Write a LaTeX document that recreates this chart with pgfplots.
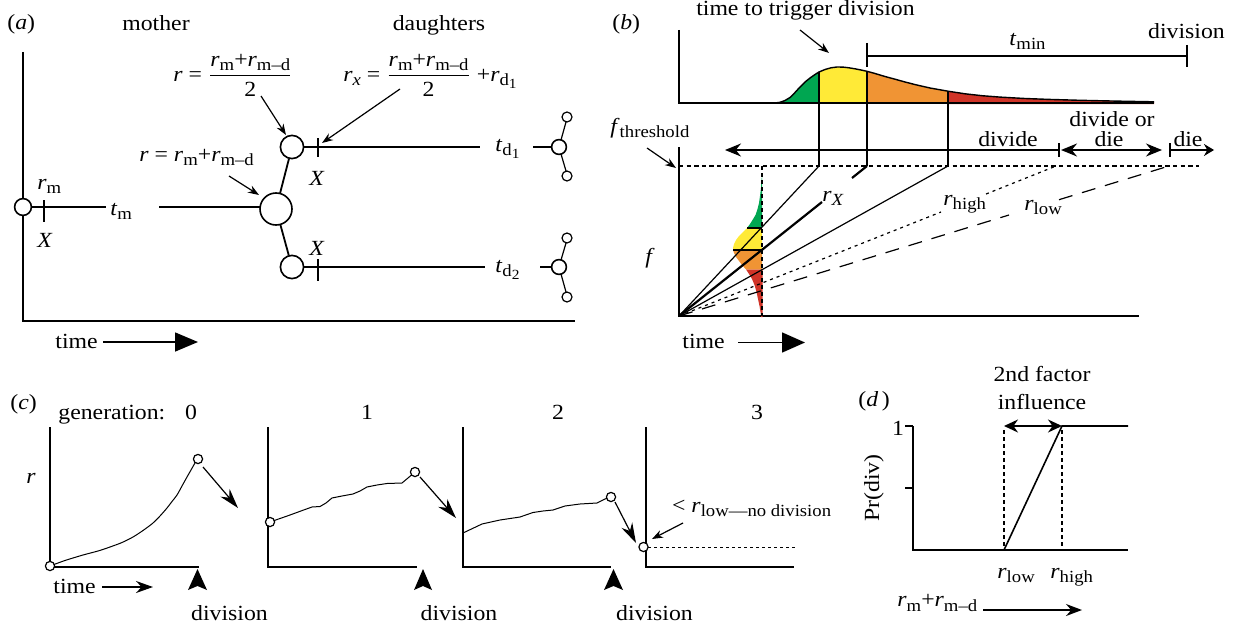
\documentclass[border=0pt]{standalone}
\usepackage{pgfplots}
\pgfplotsset{compat=1.18}
\usepackage{fontspec}
\setmainfont{Liberation Serif}[FakeStretch=1.1]
\usetikzlibrary{arrows.meta}
\definecolor{dgreen}{RGB}{0,166,81}
\definecolor{dyellow}{RGB}{255,234,55}
\definecolor{dorange}{RGB}{240,148,52}
\definecolor{dred}{RGB}{208,52,40}
\newcommand{\mainsz}{\fontsize{10.8}{13}\selectfont}
\newcommand{\sub}[1]{\raisebox{-2.4pt}{\fontsize{8.5}{9}\selectfont #1}}
\newcommand{\subsub}[1]{\raisebox{-1.5pt}{\fontsize{7}{8}\selectfont #1}}
\newcommand{\ri}{\textit{r}}
\pgfplotsset{
  ln/.style={draw=black, line width=0.6pt},
  ax/.style={draw=black, line width=1pt},
  axc/.style={draw=black, line width=0.75pt},
  circ/.style={only marks, mark=*, mark options={fill=white, draw=black, line width=0.8pt, solid}},
  circthin/.style={only marks, mark=*, mark options={fill=white, draw=black, line width=0.6pt, solid}},
  ann/.style={draw=black, line width=0.6pt, -{Stealth[length=5.5pt,width=4pt]}},
}
\begin{document}
\begin{tikzpicture}[every node/.style={font=\mainsz, inner sep=0pt}]
\path[use as bounding box] (0,0) rectangle (618pt,-313pt);
\begin{axis}[at={(0,0)}, anchor=north west, scale only axis, width=618pt, height=313pt,
  xmin=0, xmax=1236, ymin=-626, ymax=0, hide axis, clip=false]

% ================= PANEL (a) =================
\addplot[ax] coordinates {(23,-52) (23,-321) (575,-321)};
\addplot[ln] coordinates {(23,-207) (106,-207)};
\addplot[ln] coordinates {(159,-207) (262,-207)};
\addplot[ln] coordinates {(44,-200) (44,-222)};
\addplot[draw=black, line width=0.9pt] coordinates {(280,-193.5) (289,-158.6)};
\addplot[draw=black, line width=0.9pt] coordinates {(280.3,-224.4) (288.8,-255.4)};
\addplot[ln] coordinates {(304,-147) (480,-147)};
\addplot[ln] coordinates {(318,-138) (318,-157)};
\addplot[ln] coordinates {(304,-267) (485,-267)};
\addplot[ln] coordinates {(318,-259) (318,-281)};
\addplot[ln] coordinates {(533,-147) (552,-147)};
\addplot[ln] coordinates {(561,-140) (566,-122)};
\addplot[ln] coordinates {(561,-154) (566,-171)};
\addplot[ln] coordinates {(540,-267) (552,-267)};
\addplot[ln] coordinates {(561,-260) (566,-243)};
\addplot[ln] coordinates {(561,-274) (566,-292)};
\addplot[circ, mark size=4.2pt] coordinates {(23,-207)};
\addplot[circ, mark size=8pt] coordinates {(276,-209)};
\addplot[circ, mark size=5.8pt] coordinates {(292,-147) (292,-267)};
\addplot[circ, mark size=3.7pt] coordinates {(559,-147) (559,-267)};
\addplot[circthin, mark size=2.5pt] coordinates {(567,-117) (567,-176) (567,-238) (567,-297)};
\addplot[ann] coordinates {(261,-96) (286,-135)};
\addplot[ann] coordinates {(400,-89) (322,-143)};
\addplot[ann] coordinates {(229,-176) (259,-195)};
\addplot[draw=black, line width=0.8pt, -{Triangle[length=11.5pt,width=9.5pt]}] coordinates {(103,-342) (198,-342)};

\node[anchor=base west] at (7,-29.5) {(\textit{a})};
\node[anchor=base] at (156,-31) {mother};
\node[anchor=base] at (439,-30) {daughters};
\node[anchor=base west] at (173,-81) {$\mbox{\ri\ = }\displaystyle\frac{\mbox{\ri\sub{m}+\ri\sub{m–d}}}{\mbox{2}}$};
\node[anchor=base west] at (343,-81) {$\mbox{\ri\sub{\textit{x}} = }\displaystyle\frac{\mbox{\ri\sub{m}+\ri\sub{m–d}}}{\mbox{2}}\mbox{ +\ri\sub{d\subsub{1}}}$};
\node[anchor=base west] at (139,-161) {\ri\ = \ri\sub{m}+\ri\sub{m–d}};
\node[anchor=base west] at (37,-189) {\ri\sub{m}};
\node[anchor=base] at (45,-247) {\textit{X}};
\node[anchor=base west] at (110,-215) {\textit{t}\sub{m}};
\node[anchor=base] at (317,-185) {\textit{X}};
\node[anchor=base] at (317,-255) {\textit{X}};
\node[anchor=base west] at (495,-151) {\textit{t}\sub{d\subsub{1}}};
\node[anchor=base west] at (495,-272) {\textit{t}\sub{d\subsub{2}}};
\node[anchor=base west] at (55,-348) {time};

% ================= PANEL (b) =================
\addplot[fill=dgreen, draw=none] coordinates {(775,-103) (780,-102.3) (785,-100.5) (790,-97.5) (795,-92.5) (800,-87) (805,-82) (810,-78) (815,-74.5) (819,-72) (819,-103)} --cycle;
\addplot[fill=dyellow, draw=none] coordinates {(819,-103) (819,-72) (825,-69.5) (831,-67.8) (837,-67) (843,-67.1) (849,-67.8) (855,-68.8) (861,-70) (867,-71.3) (867,-103)} --cycle;
\addplot[fill=dorange, draw=none] coordinates {(867,-103) (867,-71.3) (875,-73.5) (885,-76.5) (895,-79.2) (905,-82) (916,-84.8) (930,-88) (948,-91.2) (948,-103)} --cycle;
\addplot[fill=dred, draw=none] coordinates {(948,-103) (948,-91.2) (965,-93.8) (983,-95.8) (1000,-97.1) (1025,-98.5) (1049,-99.4) (1080,-100.3) (1116,-101.1) (1154,-101.8) (1154,-104) (948,-104)} --cycle;
\addplot[draw=black, line width=0.7pt] coordinates {(770,-103) (775,-103) (780,-102.3) (785,-100.5) (790,-97.5) (795,-92.5) (800,-87) (805,-82) (810,-78) (815,-74.5) (819,-72) (825,-69.5) (831,-67.8) (837,-67) (843,-67.1) (849,-67.8) (855,-68.8) (861,-70) (867,-71.3) (875,-73.5) (885,-76.5) (895,-79.2) (905,-82) (916,-84.8) (930,-88) (948,-91.2) (965,-93.8) (983,-95.8) (1000,-97.1) (1025,-98.5) (1049,-99.4) (1080,-100.3) (1116,-101.1) (1154,-101.8)};
\addplot[ax] coordinates {(679,-30) (679,-103) (1154,-103)};
\addplot[ln] coordinates {(819,-72) (819,-166)};
\addplot[ln] coordinates {(867,-71.3) (867,-166)};
\addplot[ln] coordinates {(948,-91.2) (948,-166)};
\addplot[draw=black, line width=0.8pt] coordinates {(867,-56) (1187,-56)};
\addplot[draw=black, line width=0.8pt] coordinates {(867,-43) (867,-67)};
\addplot[draw=black, line width=0.8pt] coordinates {(1187,-45) (1187,-67)};

\addplot[ax] coordinates {(679,-147) (679,-316) (1139,-316)};
\addplot[draw=black, line width=0.7pt, dash pattern=on 2.2pt off 1.6pt] coordinates {(679,-166) (1199,-166)};
% sideways distribution
\addplot[fill=dgreen, draw=none] coordinates {(762,-176) (761.5,-180) (761,-188) (760,-196) (759,-203) (757.5,-209) (755.5,-215) (752.5,-220) (750,-224) (747,-228) (762,-228)} --cycle;
\addplot[fill=dyellow, draw=none] coordinates {(747,-228) (743,-232) (739,-236) (736,-240) (734,-244) (733,-248) (733,-250) (762,-250) (762,-228)} --cycle;
\addplot[fill=dorange, draw=none] coordinates {(733,-250) (734,-253) (736,-257) (739,-261) (742,-265) (746,-269.5) (762,-269.5) (762,-250)} --cycle;
\addplot[fill=dred, draw=none] coordinates {(746,-269.5) (749,-274) (752,-279) (754.5,-285) (756.5,-292) (758,-299) (759.5,-306) (760.5,-312) (761.2,-317) (762.5,-317) (762.5,-269.5)} --cycle;
\addplot[draw=black, line width=0.9pt] coordinates {(747,-228) (762,-228)};
\addplot[draw=black, line width=0.9pt] coordinates {(733,-250) (762,-250)};
\addplot[draw=black, line width=0.6pt, dash pattern=on 2pt off 1.5pt] coordinates {(762,-166) (762,-316)};
% rays
\addplot[ln] coordinates {(679,-316) (819,-166)};
\addplot[draw=black, line width=1.1pt] coordinates {(679,-316) (822,-202)};
\addplot[draw=black, line width=1.1pt] coordinates {(852,-178) (867,-166)};
\addplot[ln] coordinates {(679,-316) (948,-166)};
\addplot[draw=black, line width=0.6pt, dash pattern=on 1.5pt off 2pt] coordinates {(679,-316) (941,-212)};
\addplot[draw=black, line width=0.6pt, dash pattern=on 1.5pt off 2pt] coordinates {(986,-194) (1056,-166)};
\addplot[draw=black, line width=0.6pt, dash pattern=on 7pt off 5pt] coordinates {(679,-316) (1009,-215)};
\addplot[draw=black, line width=0.6pt, dash pattern=on 7pt off 5pt] coordinates {(1059,-199.7) (1169,-166)};
% arrows
\addplot[draw=black, line width=0.8pt, {Stealth[length=8pt,width=6.5pt]}-] coordinates {(725,-150) (1059,-150)};
\addplot[draw=black, line width=0.8pt] coordinates {(1059,-143) (1059,-157)};
\addplot[draw=black, line width=0.8pt, {Stealth[length=8pt,width=6.5pt]}-{Stealth[length=8pt,width=6.5pt]}] coordinates {(1061,-150) (1162,-150)};
\addplot[draw=black, line width=0.8pt] coordinates {(1170,-143) (1170,-157)};
\addplot[draw=black, line width=0.8pt, -{Stealth[length=5pt,width=6pt]}] coordinates {(1170,-150) (1214,-150)};
\addplot[ann] coordinates {(647,-148) (676,-168)};
\addplot[ann] coordinates {(800,-30) (829,-53)};
\addplot[draw=black, line width=0.8pt, -{Triangle[length=11.5pt,width=10pt]}] coordinates {(738,-342.5) (805,-342.5)};

\node[anchor=base west] at (612,-29.5) {(\textit{b})};
\node[anchor=base] at (805.5,-16) {time to trigger division};
\node[anchor=base west] at (1009,-45) {\textit{t}\sub{min}};
\node[anchor=base] at (1186.5,-38.5) {division};
\node[anchor=base west] at (610,-133) {\textit{f}\sub{threshold}};
\node[anchor=base west] at (645,-263) {\textit{f}};
\node[anchor=base] at (1008,-146) {divide};
\node[anchor=base] at (1112,-126.7) {divide or};
\node[anchor=base] at (1109,-146.7) {die};
\node[anchor=base] at (1188,-146.5) {die};
\node[anchor=base west] at (822,-201) {\ri\sub{\textit{X}}};
\node[anchor=base west] at (943,-205) {\ri\sub{high}};
\node[anchor=base west] at (1024,-210) {\ri\sub{low}};
\node[anchor=base west] at (682,-348) {time};

% ================= PANEL (c) =================
\addplot[axc] coordinates {(50,-427) (50,-567) (199,-567)};
\addplot[axc] coordinates {(268,-427) (268,-567) (417,-567)};
\addplot[axc] coordinates {(463,-427) (463,-567) (611,-567)};
\addplot[axc] coordinates {(646,-427) (646,-567) (794,-567)};
\addplot[draw=black, line width=0.5pt, smooth] coordinates {(50,-566) (65,-560.5) (83,-555) (98,-551) (110,-547) (122,-542.5) (133,-537) (143,-530.5) (153,-523) (160,-516) (167,-508) (172,-501.5) (177,-495) (182,-486) (187,-477) (191,-470) (195,-463) (198,-459)};
\addplot[draw=black, line width=0.5pt] coordinates {(270,-522) (290,-515) (305,-509.5) (312,-507) (320,-506.5) (326,-503) (332,-498) (342,-496) (353,-494) (360,-491) (367,-487) (377,-485) (387,-483.5) (402,-483) (408,-478) (415,-472)};
\addplot[draw=black, line width=0.5pt] coordinates {(463,-533) (482,-524) (500,-520) (520,-517) (533,-512.5) (543,-511) (553,-510) (565,-506) (580,-504) (597,-503) (605,-499) (611,-497)};
\addplot[draw=black, line width=0.5pt, dash pattern=on 1.5pt off 1.5pt] coordinates {(648,-547) (795,-547)};
\addplot[draw=black, line width=0.6pt, -{Stealth[length=10pt,width=6pt]}] coordinates {(203,-467) (238,-508)};
\addplot[draw=black, line width=0.6pt, -{Stealth[length=10pt,width=6pt]}] coordinates {(420,-477) (456,-518)};
\addplot[draw=black, line width=0.6pt, -{Stealth[length=10pt,width=6pt]}] coordinates {(615,-502) (636,-543)};
\addplot[ann] coordinates {(683,-523) (652,-539)};
\addplot[draw=black, line width=0.7pt, -{Stealth[length=8.5pt,width=6pt]}] coordinates {(102,-587) (153,-587)};
\addplot[fill=black, draw=none] coordinates {(188,-590) (197.5,-569) (207,-590) (197.5,-586)} --cycle;
\addplot[fill=black, draw=none] coordinates {(414,-590) (423,-569) (432,-590) (423,-586)} --cycle;
\addplot[fill=black, draw=none] coordinates {(604,-590) (613.5,-569) (623,-590) (613.5,-586)} --cycle;
\addplot[circthin, mark size=2.3pt] coordinates {(50,-566) (198,-459) (270,-522) (415,-472) (611,-497) (643.5,-547)};

\node[anchor=base west] at (10,-409.5) {(\textit{c})};
\node[anchor=base west] at (58,-419) {generation:};
\node[anchor=base] at (191,-419) {0};
\node[anchor=base] at (367,-419) {1};
\node[anchor=base] at (558,-419) {2};
\node[anchor=base] at (757,-419) {3};
\node[anchor=base west] at (26,-483) {\ri};
\node[anchor=base west] at (53,-593) {time};
\node[anchor=base] at (229.5,-620) {division};
\node[anchor=base] at (459,-620) {division};
\node[anchor=base] at (654.5,-620) {division};
\node[anchor=base west] at (671.7,-512) {< \ri\sub{low—no division}};

% ================= PANEL (d) =================
\addplot[ax] coordinates {(913,-426) (913,-550) (1128,-550)};
\addplot[ax] coordinates {(905,-426) (913,-426)};
\addplot[ax] coordinates {(905,-488) (913,-488)};
\addplot[draw=black, line width=0.8pt] coordinates {(1004,-550) (1062,-426) (1128,-426)};
\addplot[draw=black, line width=0.6pt, dash pattern=on 2pt off 1.5pt] coordinates {(1004,-430) (1004,-550)};
\addplot[draw=black, line width=0.6pt, dash pattern=on 2pt off 1.5pt] coordinates {(1062,-430) (1062,-550)};
\addplot[draw=black, line width=0.8pt, {Stealth[length=7pt,width=6.5pt]}-{Stealth[length=7pt,width=6.5pt]}] coordinates {(1004,-426) (1062,-426)};
\addplot[draw=black, line width=0.8pt, -{Stealth[length=8pt,width=6pt]}] coordinates {(983,-610) (1082,-610)};

\node[anchor=base west] at (858,-406) {(\textit{d}\,)};
\node[anchor=base] at (1042,-381) {2nd factor};
\node[anchor=base] at (1042,-409) {influence};
\node[anchor=base] at (898,-435) {1};
\node[rotate=90] at (874,-488) {Pr(div)};
\node[anchor=base west] at (997,-578) {\ri\sub{low}};
\node[anchor=base west] at (1050,-578) {\ri\sub{high}};
\node[anchor=base west] at (897,-606.5) {\ri\sub{m}+\ri\sub{m–d}};

\end{axis}
\end{tikzpicture}
\end{document}
